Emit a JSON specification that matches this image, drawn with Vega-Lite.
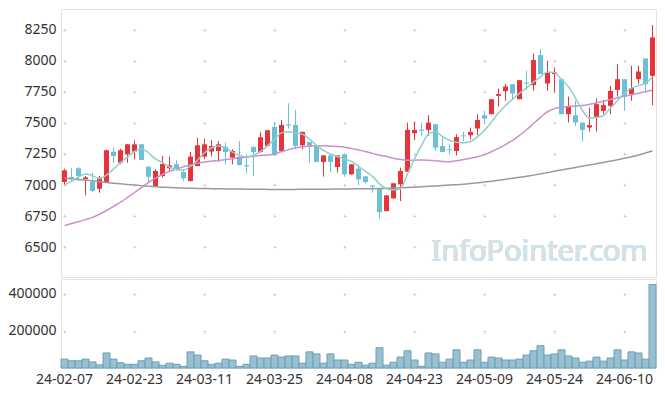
{
"$schema": "https://vega.github.io/schema/vega-lite/v6.json",
"padding": {"left": 5, "top": 8, "right": 10, "bottom": 5},
"background": "white",
"config": {"font": "Noto Sans", "view": {"stroke": "#e3e3e3"}, "axis": {"labelFontSize": 14, "labelColor": "#333", "labelFont": "Noto Sans", "gridColor": "#d0d0d0", "gridWidth": 1, "labelOverlap": false}},
"datasets": {"k": [
{"d":"24-02-07","o":7024,"h":7132,"l":7006,"c":7119,"v":48000,"m5":7000,"m20":6675,"m60":7055},
{"d":"24-02-08","o":7065,"h":7140,"l":7030,"c":7055,"v":39000,"m5":7030,"m20":6690,"m60":7050},
{"d":"24-02-13","o":7135,"h":7145,"l":7033,"c":7073,"v":39000,"m5":7065,"m20":6705,"m60":7045},
{"d":"24-02-14","o":7048,"h":7073,"l":6917,"c":7062,"v":48000,"m5":7090,"m20":6722,"m60":7040},
{"d":"24-02-15","o":7027,"h":7100,"l":6944,"c":6952,"v":33000,"m5":7075,"m20":6740,"m60":7033},
{"d":"24-02-16","o":6971,"h":7073,"l":6938,"c":7059,"v":17000,"m5":7050,"m20":6765,"m60":7027},
{"d":"24-02-19","o":7024,"h":7285,"l":7020,"c":7280,"v":81000,"m5":7080,"m20":6795,"m60":7020},
{"d":"24-02-20","o":7269,"h":7301,"l":7180,"c":7234,"v":48000,"m5":7130,"m20":6828,"m60":7015},
{"d":"24-02-21","o":7180,"h":7293,"l":7167,"c":7280,"v":28000,"m5":7180,"m20":6862,"m60":7010},
{"d":"24-02-22","o":7247,"h":7330,"l":7180,"c":7328,"v":20000,"m5":7225,"m20":6900,"m60":7005},
{"d":"24-02-23","o":7269,"h":7360,"l":7207,"c":7328,"v":20000,"m5":7270,"m20":6940,"m60":7000},
{"d":"24-02-26","o":7328,"h":7330,"l":7200,"c":7202,"v":39000,"m5":7290,"m20":6980,"m60":6995},
{"d":"24-02-27","o":7148,"h":7150,"l":7020,"c":7067,"v":54000,"m5":7260,"m20":7020,"m60":6990},
{"d":"24-02-28","o":6992,"h":7127,"l":6990,"c":7113,"v":33000,"m5":7210,"m20":7055,"m60":6986},
{"d":"24-02-29","o":7073,"h":7234,"l":7060,"c":7170,"v":15000,"m5":7180,"m20":7085,"m60":6983},
{"d":"24-03-04","o":7135,"h":7229,"l":7113,"c":7159,"v":26000,"m5":7145,"m20":7110,"m60":6980},
{"d":"24-03-05","o":7167,"h":7199,"l":7113,"c":7135,"v":20000,"m5":7125,"m20":7130,"m60":6978},
{"d":"24-03-06","o":7105,"h":7127,"l":7032,"c":7054,"v":9000,"m5":7120,"m20":7148,"m60":6976},
{"d":"24-03-07","o":7032,"h":7266,"l":7030,"c":7229,"v":87000,"m5":7150,"m20":7162,"m60":6974},
{"d":"24-03-08","o":7153,"h":7382,"l":7150,"c":7320,"v":70000,"m5":7200,"m20":7175,"m60":6973},
{"d":"24-03-11","o":7229,"h":7374,"l":7207,"c":7328,"v":39000,"m5":7260,"m20":7185,"m60":6972},
{"d":"24-03-12","o":7269,"h":7363,"l":7229,"c":7315,"v":20000,"m5":7300,"m20":7192,"m60":6971},
{"d":"24-03-13","o":7274,"h":7355,"l":7188,"c":7328,"v":26000,"m5":7315,"m20":7198,"m60":6970},
{"d":"24-03-14","o":7309,"h":7342,"l":7167,"c":7266,"v":48000,"m5":7300,"m20":7205,"m60":6969},
{"d":"24-03-15","o":7221,"h":7288,"l":7167,"c":7274,"v":43000,"m5":7265,"m20":7212,"m60":6968},
{"d":"24-03-18","o":7229,"h":7355,"l":7160,"c":7161,"v":9000,"m5":7240,"m20":7218,"m60":6968},
{"d":"24-03-19","o":7160,"h":7247,"l":7094,"c":7150,"v":20000,"m5":7225,"m20":7225,"m60":6967},
{"d":"24-03-20","o":7307,"h":7310,"l":7073,"c":7266,"v":65000,"m5":7240,"m20":7232,"m60":6966},
{"d":"24-03-21","o":7266,"h":7425,"l":7261,"c":7385,"v":54000,"m5":7270,"m20":7238,"m60":6966},
{"d":"24-03-22","o":7315,"h":7441,"l":7309,"c":7441,"v":54000,"m5":7315,"m20":7242,"m60":6965},
{"d":"24-03-25","o":7468,"h":7503,"l":7234,"c":7239,"v":70000,"m5":7370,"m20":7250,"m60":6965},
{"d":"24-03-26","o":7274,"h":7524,"l":7270,"c":7484,"v":59000,"m5":7420,"m20":7268,"m60":6965},
{"d":"24-03-27","o":7490,"h":7659,"l":7455,"c":7480,"v":65000,"m5":7430,"m20":7285,"m60":6965},
{"d":"24-03-28","o":7484,"h":7605,"l":7288,"c":7315,"v":65000,"m5":7420,"m20":7298,"m60":6965},
{"d":"24-03-29","o":7320,"h":7430,"l":7288,"c":7428,"v":26000,"m5":7410,"m20":7308,"m60":6966},
{"d":"24-04-01","o":7347,"h":7347,"l":7180,"c":7309,"v":87000,"m5":7370,"m20":7313,"m60":6966},
{"d":"24-04-02","o":7315,"h":7315,"l":7186,"c":7186,"v":76000,"m5":7320,"m20":7316,"m60":6966},
{"d":"24-04-03","o":7186,"h":7240,"l":7067,"c":7239,"v":26000,"m5":7280,"m20":7316,"m60":6967},
{"d":"24-04-04","o":7239,"h":7240,"l":7105,"c":7186,"v":76000,"m5":7250,"m20":7313,"m60":6967},
{"d":"24-04-05","o":7145,"h":7240,"l":7100,"c":7239,"v":43000,"m5":7230,"m20":7310,"m60":6968},
{"d":"24-04-08","o":7247,"h":7250,"l":7067,"c":7086,"v":43000,"m5":7210,"m20":7305,"m60":6968},
{"d":"24-04-09","o":7086,"h":7170,"l":7084,"c":7167,"v":20000,"m5":7190,"m20":7295,"m60":6969},
{"d":"24-04-11","o":7133,"h":7159,"l":7000,"c":7046,"v":31000,"m5":7150,"m20":7282,"m60":6970},
{"d":"24-04-12","o":7070,"h":7073,"l":7014,"c":7024,"v":15000,"m5":7110,"m20":7270,"m60":6970},
{"d":"24-04-15","o":6997,"h":6999,"l":6938,"c":6987,"v":26000,"m5":7070,"m20":7255,"m60":6971},
{"d":"24-04-16","o":6971,"h":6971,"l":6729,"c":6782,"v":109000,"m5":7010,"m20":7240,"m60":6972},
{"d":"24-04-17","o":6790,"h":6920,"l":6790,"c":6917,"v":15000,"m5":6970,"m20":7230,"m60":6974},
{"d":"24-04-18","o":6893,"h":7016,"l":6890,"c":7014,"v":31000,"m5":6960,"m20":7215,"m60":6976},
{"d":"24-04-19","o":7006,"h":7140,"l":6871,"c":7113,"v":59000,"m5":6970,"m20":7205,"m60":6978},
{"d":"24-04-22","o":7108,"h":7503,"l":7105,"c":7444,"v":93000,"m5":7090,"m20":7200,"m60":6980},
{"d":"24-04-23","o":7417,"h":7511,"l":7363,"c":7444,"v":43000,"m5":7210,"m20":7200,"m60":6983},
{"d":"24-04-24","o":7447,"h":7503,"l":7395,"c":7437,"v":9000,"m5":7320,"m20":7202,"m60":6986},
{"d":"24-04-25","o":7444,"h":7562,"l":7395,"c":7503,"v":81000,"m5":7410,"m20":7200,"m60":6990},
{"d":"24-04-26","o":7490,"h":7490,"l":7274,"c":7301,"v":76000,"m5":7430,"m20":7195,"m60":6993},
{"d":"24-04-29","o":7315,"h":7395,"l":7266,"c":7266,"v":31000,"m5":7390,"m20":7190,"m60":6996},
{"d":"24-04-30","o":7288,"h":7328,"l":7247,"c":7280,"v":48000,"m5":7360,"m20":7188,"m60":7000},
{"d":"24-05-02","o":7274,"h":7409,"l":7239,"c":7386,"v":98000,"m5":7345,"m20":7195,"m60":7003},
{"d":"24-05-03","o":7400,"h":7428,"l":7355,"c":7392,"v":31000,"m5":7340,"m20":7205,"m60":7007},
{"d":"24-05-07","o":7401,"h":7463,"l":7368,"c":7428,"v":43000,"m5":7350,"m20":7215,"m60":7012},
{"d":"24-05-08","o":7455,"h":7570,"l":7401,"c":7524,"v":98000,"m5":7390,"m20":7228,"m60":7018},
{"d":"24-05-09","o":7562,"h":7597,"l":7503,"c":7535,"v":31000,"m5":7440,"m20":7245,"m60":7024},
{"d":"24-05-10","o":7570,"h":7691,"l":7570,"c":7691,"v":59000,"m5":7510,"m20":7268,"m60":7031},
{"d":"24-05-13","o":7718,"h":7777,"l":7632,"c":7732,"v":54000,"m5":7580,"m20":7295,"m60":7038},
{"d":"24-05-14","o":7756,"h":7812,"l":7678,"c":7793,"v":43000,"m5":7640,"m20":7325,"m60":7046},
{"d":"24-05-16","o":7812,"h":7812,"l":7691,"c":7737,"v":43000,"m5":7690,"m20":7360,"m60":7054},
{"d":"24-05-17","o":7691,"h":7844,"l":7691,"c":7844,"v":48000,"m5":7740,"m20":7400,"m60":7062},
{"d":"24-05-20","o":7825,"h":7920,"l":7766,"c":7817,"v":70000,"m5":7780,"m20":7445,"m60":7071},
{"d":"24-05-21","o":7804,"h":8059,"l":7758,"c":8006,"v":93000,"m5":7830,"m20":7495,"m60":7080},
{"d":"24-05-22","o":8046,"h":8094,"l":7893,"c":7893,"v":120000,"m5":7870,"m20":7545,"m60":7090},
{"d":"24-05-23","o":7817,"h":8000,"l":7758,"c":7906,"v":70000,"m5":7910,"m20":7590,"m60":7100},
{"d":"24-05-24","o":7893,"h":7946,"l":7750,"c":7906,"v":76000,"m5":7905,"m20":7615,"m60":7112},
{"d":"24-05-27","o":7852,"h":7852,"l":7570,"c":7570,"v":98000,"m5":7850,"m20":7628,"m60":7122},
{"d":"24-05-28","o":7570,"h":7713,"l":7503,"c":7632,"v":65000,"m5":7790,"m20":7632,"m60":7132},
{"d":"24-05-29","o":7562,"h":7678,"l":7476,"c":7503,"v":54000,"m5":7700,"m20":7635,"m60":7142},
{"d":"24-05-30","o":7503,"h":7503,"l":7350,"c":7444,"v":31000,"m5":7600,"m20":7640,"m60":7152},
{"d":"24-05-31","o":7463,"h":7624,"l":7430,"c":7482,"v":37000,"m5":7540,"m20":7650,"m60":7162},
{"d":"24-06-03","o":7543,"h":7697,"l":7430,"c":7651,"v":59000,"m5":7545,"m20":7662,"m60":7172},
{"d":"24-06-04","o":7597,"h":7686,"l":7570,"c":7643,"v":37000,"m5":7560,"m20":7675,"m60":7182},
{"d":"24-06-05","o":7637,"h":7799,"l":7570,"c":7758,"v":54000,"m5":7620,"m20":7688,"m60":7193},
{"d":"24-06-07","o":7766,"h":7973,"l":7713,"c":7852,"v":98000,"m5":7680,"m20":7702,"m60":7204},
{"d":"24-06-10","o":7852,"h":7852,"l":7597,"c":7713,"v":43000,"m5":7740,"m20":7715,"m60":7216},
{"d":"24-06-11","o":7732,"h":7960,"l":7678,"c":7780,"v":87000,"m5":7780,"m20":7727,"m60":7228},
{"d":"24-06-12","o":7852,"h":7960,"l":7812,"c":7914,"v":81000,"m5":7800,"m20":7740,"m60":7242},
{"d":"24-06-13","o":8019,"h":8019,"l":7740,"c":7812,"v":48000,"m5":7820,"m20":7752,"m60":7258},
{"d":"24-06-14","o":7879,"h":8288,"l":7643,"c":8188,"v":450000,"m5":7870,"m20":7766,"m60":7275}
]},
"data": {"name": "k"},
"spacing": 0,
"vconcat": [
{
"width": 595, "height": 268,
"encoding": {
  "x": {"field": "d", "type": "ordinal", "title": null, "scale": {"paddingInner": 0, "paddingOuter": 0},
        "axis": {"labels": false, "ticks": false, "domain": false, "grid": true, "bandPosition": 0.5,
                 "values": ["24-02-07","24-02-23","24-03-11","24-03-25","24-04-08","24-04-23","24-05-09","24-05-24","24-06-10"],
                 "gridDash": [3, 28], "gridDashOffset": 11.8, "minExtent": 0, "maxExtent": 0}}
},
"layer": [
  {"mark": {"type": "rule", "strokeWidth": 1},
   "encoding": {
     "y": {"field": "l", "type": "quantitative", "title": null, "scale": {"domain": [6260, 8417], "nice": false, "zero": false},
           "axis": {"values": [6500,6750,7000,7250,7500,7750,8000,8250], "labelOverlap": false, "format": "d", "ticks": false, "domain": false, "grid": true, "labelPadding": 5, "minExtent": 55, "maxExtent": 55, "gridDash": [3, 67], "gridDashOffset": 68}},
     "y2": {"field": "h"},
     "color": {"condition": {"test": "datum.c >= datum.o", "value": "#e8333a"}, "value": "#6bc0d8"}
   }},
  {"mark": {"type": "text", "text": "InfoPointer.com", "fontSize": 29, "color": "#d3e1e9", "align": "right", "baseline": "alphabetic", "dx": -5, "font": "Noto Sans"},
   "encoding": {"x": {"datum": "24-06-14"}, "y": {"datum": 6385, "title": null,
           "axis": {"values": [6500,6750,7000,7250,7500,7750,8000,8250], "labelOverlap": false, "format": "d", "ticks": false, "domain": false, "grid": true, "labelPadding": 5, "minExtent": 55, "maxExtent": 55, "gridDash": [3, 67], "gridDashOffset": 68}}}},
  {"mark": {"type": "bar", "width": {"band": 0.72}},
   "encoding": {
     "y": {"field": "o", "type": "quantitative", "title": null,
           "axis": {"values": [6500,6750,7000,7250,7500,7750,8000,8250], "labelOverlap": false, "format": "d", "ticks": false, "domain": false, "grid": true, "labelPadding": 5, "minExtent": 55, "maxExtent": 55, "gridDash": [3, 67], "gridDashOffset": 68}},
     "y2": {"field": "c"},
     "color": {"condition": {"test": "datum.c >= datum.o", "value": "#e8333a"}, "value": "#6bc0d8"}
   }},
  {"mark": {"type": "line", "color": "#9a9a9a", "strokeWidth": 1.5, "interpolate": "monotone"},
   "encoding": {"y": {"field": "m60", "type": "quantitative", "title": null,
           "axis": {"values": [6500,6750,7000,7250,7500,7750,8000,8250], "labelOverlap": false, "format": "d", "ticks": false, "domain": false, "grid": true, "labelPadding": 5, "minExtent": 55, "maxExtent": 55, "gridDash": [3, 67], "gridDashOffset": 68}}}},
  {"mark": {"type": "line", "color": "#cc8fcc", "strokeWidth": 1.5, "interpolate": "monotone"},
   "encoding": {"y": {"field": "m20", "type": "quantitative", "title": null,
           "axis": {"values": [6500,6750,7000,7250,7500,7750,8000,8250], "labelOverlap": false, "format": "d", "ticks": false, "domain": false, "grid": true, "labelPadding": 5, "minExtent": 55, "maxExtent": 55, "gridDash": [3, 67], "gridDashOffset": 68}}}},
  {"mark": {"type": "line", "color": "#8fd0c6", "strokeWidth": 1.5, "interpolate": "monotone"},
   "encoding": {"y": {"field": "m5", "type": "quantitative", "title": null,
           "axis": {"values": [6500,6750,7000,7250,7500,7750,8000,8250], "labelOverlap": false, "format": "d", "ticks": false, "domain": false, "grid": true, "labelPadding": 5, "minExtent": 55, "maxExtent": 55, "gridDash": [3, 67], "gridDashOffset": 68}}}}
]
},
{
"width": 595, "height": 89,
"mark": {"type": "bar", "fill": "#98c0d0", "stroke": "#6d9fb6", "strokeWidth": 1},
"encoding": {
  "x": {"field": "d", "type": "ordinal", "title": null, "scale": {"paddingInner": 0, "paddingOuter": 0},
        "axis": {"labelAngle": 0, "ticks": false, "domain": false, "grid": true, "bandPosition": 0.5, "labelPadding": 4,
                 "values": ["24-02-07","24-02-23","24-03-11","24-03-25","24-04-08","24-04-23","24-05-09","24-05-24","24-06-10"],
                 "gridDash": [3, 34.7], "gridDashOffset": 24.2}},
  "y": {"field": "v", "type": "quantitative", "title": null, "scale": {"domain": [0, 480000], "nice": false},
        "axis": {"values": [200000, 400000], "labelOverlap": false, "format": "d", "ticks": false, "domain": false, "grid": true, "labelPadding": 5, "minExtent": 55, "maxExtent": 55, "gridDash": [3, 67], "gridDashOffset": 68}}
}
}
]
}
